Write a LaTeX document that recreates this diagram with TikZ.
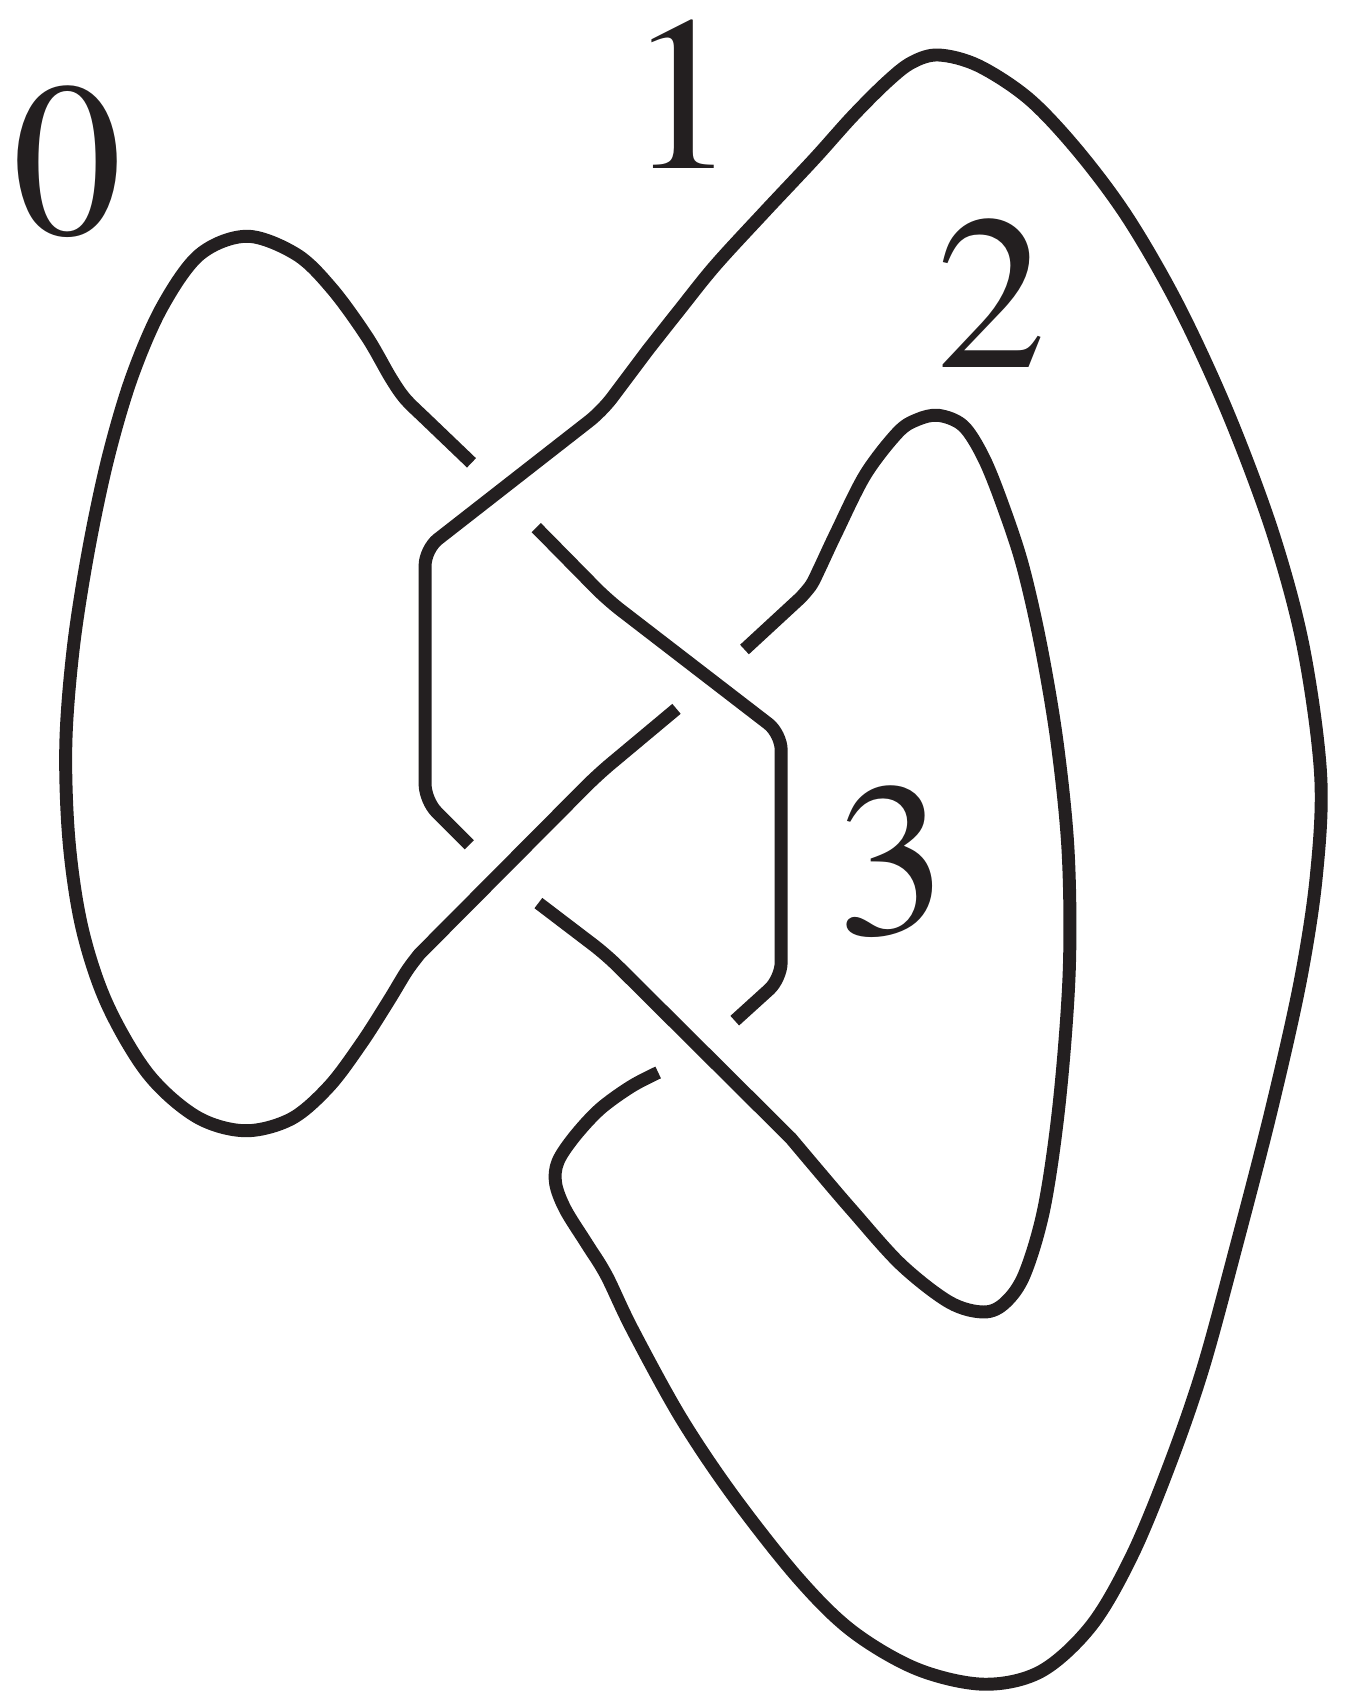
\documentclass[tikz,border=0pt]{standalone}
\usepackage{fontspec}
\setmainfont{texgyretermes-regular.otf}
\definecolor{ink}{RGB}{35,31,32}
\begin{document}
\begin{tikzpicture}[x=0.01cm,y=-0.01cm,
  knot/.style={draw=ink, line width=0.12cm, line join=round},
  lbl/.style={anchor=base, inner sep=0pt, text=ink, font=\fontsize{58}{58}\selectfont}]
\useasboundingbox (0,0) rectangle (1248,1571);
% labels
\node[lbl] (l0) at (63,217) {0};
\node[lbl] (l1) at (633,156) {1};
\node[lbl] (l2) at (919,341) {2};
\node[lbl] (l3) at (827,866) {3};
% arc 0 : left loop
\draw[knot] (437,429) -- plot[smooth, tension=0.55] coordinates {
 (390,384) (375,369) (362,350) (340,312) (308,268) (275,236) (229,219)
 (185,236) (150,285) (122,350) (100,425) (82,510) (68,600) (61,690)
 (64,780) (76,860) (99,930) (137,995) (182,1035) (227,1048) (270,1037)
 (305,1007) (335,967) (360,928) (377,900) (389,884)}
 [rounded corners=0.15cm] -- (554,718) -- (627,657);
% arc 1 : big outer loop
\draw[knot] plot[smooth, tension=0.55] coordinates {
 (610,994) (585,1007) (556,1028) (532,1054) (517,1077) (515,1097) (524,1121)
 (544,1153) (562,1182) (586,1232) (631,1314) (680,1387) (740,1463)
 (790,1512) (850,1547) (912,1561) (965,1549) (1012,1506) (1050,1440)
 (1085,1355) (1115,1268) (1145,1158) (1178,1030) (1205,910) (1220,812)
 (1224,718) (1208,600) (1180,495) (1139,385) (1093,285) (1046,203)
 (1000,141) (954,92) (907,61) (870,51) (845,58) (822,76) (790,108)
 (755,147) (709,196) (663,246) (630,287) (600,325)}
 [rounded corners=0.15cm] -- (558,381) -- (394,509) -- (394,742) -- (435,783);
% arc 2 : inner right loop
\draw[knot] (690,602) -- plot[smooth, tension=0.55] coordinates {
 (742,554) (752,542) (760,526) (775,494) (802,440) (832,401) (850,389)
 (870,385) (893,395) (912,425) (930,470) (948,525) (965,600) (980,690)
 (990,790) (991,900) (982,1020) (968,1118) (950,1180) (932,1207)
 (912,1216) (880,1207) (835,1172) (790,1122) (760,1087) (733,1055)}
 [rounded corners=0.15cm] -- (562,885) -- (499,837);
% arc 3 : hexagon right side
\draw[knot, rounded corners=0.15cm] (497,489) -- (563,556) -- (724,680)
 -- (724,907) -- (681,946);
\end{tikzpicture}
\end{document}
